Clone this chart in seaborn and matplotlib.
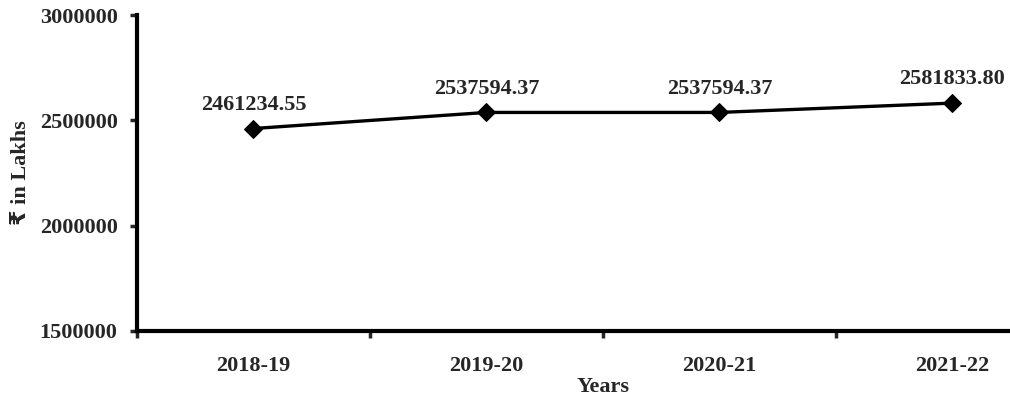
import pandas as pd
import seaborn as sns
import matplotlib.pyplot as plt
from matplotlib.ticker import FixedLocator, NullFormatter

years = ["2018-19", "2019-20", "2020-21", "2021-22"]
amounts = [2461234.55, 2537594.37, 2537594.37, 2581833.80]
value_labels = ["2461234.55", "2537594.37", "2537594.37", "2581833.80"]
y_ticks = [1500000, 2000000, 2500000, 3000000]

df = pd.DataFrame({"Years": years, "Amount": amounts})

sns.set_style("white")
plt.rcParams['font.family'] = ['Liberation Serif', 'DejaVu Sans']
plt.rcParams['font.weight'] = 'bold'

fs = 16

fig = plt.figure(figsize=(10.1, 4.03), dpi=100)
ax = fig.add_axes([0.1356, 0.1787, 0.9228, 0.784])

sns.lineplot(data=df, x="Years", y="Amount", ax=ax, color="black", linewidth=2.4,
             marker="D", markersize=9.5, markeredgecolor="black", sort=False)

for i, (val, txt) in enumerate(zip(amounts, value_labels)):
    ax.annotate(txt, (i, val), xytext=(0, 10), textcoords="offset points",
                ha="center", va="bottom", fontsize=fs, fontweight="bold")

ax.set_ylim(1500000, 3000000)
ax.set_yticks(y_ticks)
ax.set_yticklabels([str(t) for t in y_ticks])
ax.set_xlim(-0.5, 3.5)

# boundary ticks between categories, labels centred on categories
ax.xaxis.set_major_locator(FixedLocator([-0.5, 0.5, 1.5, 2.5, 3.5]))
ax.xaxis.set_major_formatter(NullFormatter())
ax.xaxis.set_minor_locator(FixedLocator(range(len(years))))
ax.set_xticklabels(years, minor=True)
ax.tick_params(axis="x", which="major", direction="out", length=5, width=2.5, bottom=True)
ax.tick_params(axis="x", which="minor", length=0, pad=18, labelsize=fs)
ax.tick_params(axis="y", direction="out", length=5, width=2.5, left=True, pad=9, labelsize=fs)

for s in ["top", "right"]:
    ax.spines[s].set_visible(False)
for s in ["left", "bottom"]:
    ax.spines[s].set_linewidth(3)
    ax.spines[s].set_color("black")

ax.set_xlabel("Years", fontsize=fs, fontweight="bold", labelpad=1)
ax.set_ylabel("₹ in Lakhs", fontsize=fs, fontweight="bold", labelpad=6)

fig.savefig("out.png", dpi=100)
